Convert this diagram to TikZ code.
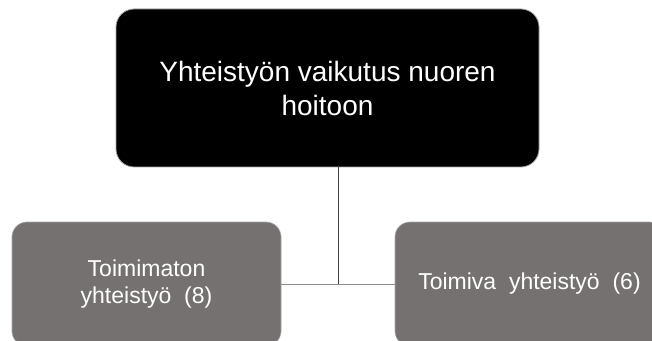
\documentclass[tikz,border=0pt]{standalone}
\usepackage{fontspec}
\setmainfont{Liberation Sans}
\usetikzlibrary{positioning}
\usetikzlibrary{calc}
\definecolor{boxgray}{HTML}{767171}
\definecolor{rimgray}{HTML}{A6A6A6}
\definecolor{linedark}{HTML}{404040}
\definecolor{linelight}{HTML}{8C8C8C}

\begin{document}
\begin{tikzpicture}[x=1pt,y=1pt,semithick]
				\tikzstyle{every node}=[font=\fontsize{23}{27}\selectfont,text=white,align=center]
				\tikzstyle{topbox}=[rectangle,rounded corners=18pt,fill=black,draw=rimgray,line width=0.8pt,
				minimum width=423pt,minimum height=158pt,inner sep=0pt,font=\fontsize{28}{34}\selectfont]
				\tikzstyle{subbox}=[rectangle,rounded corners=15pt,fill=boxgray,draw=rimgray,line width=0.6pt,
				minimum width=269pt,minimum height=124pt,inner sep=0pt]
				
				\useasboundingbox (0,0) rectangle (652,340);
				\clip (0,0) rectangle (652,340);
				
				\node[topbox]  (Effect)  at (327.5,252)  {Yhteistyön vaikutus nuoren\\hoitoon};
				\node[subbox]  (Poor)    at (146.5,56)   {Toimimaton\\yhteistyö~ (8)};
				\node[subbox]  (Good)    at (529.5,56)   {Toimiva~ yhteistyö~ (6)};
				\coordinate    (Joint)   at (338,56);
				
				\draw[linelight] (Poor.east) -- (Good.west);
				\draw[linedark]  (Effect.south -| Joint) -- (Joint);
\end{tikzpicture}
\end{document}
